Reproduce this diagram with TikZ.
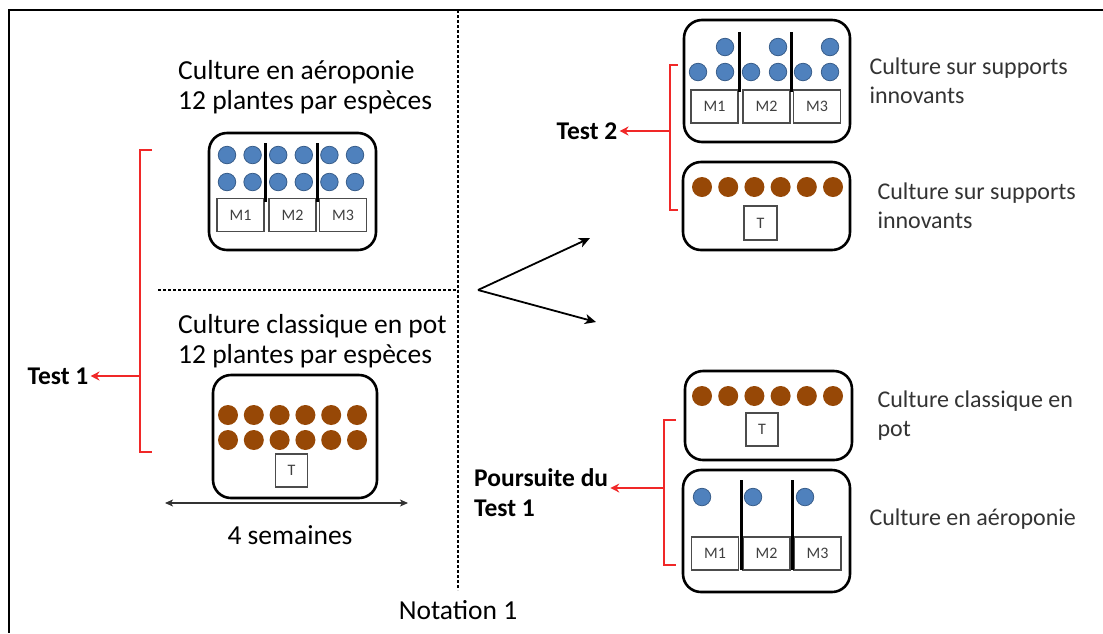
\documentclass[tikz,border=0pt]{standalone}
\usepackage{fontspec}
\setmainfont{Carlito}
\usetikzlibrary{arrows, arrows.meta, calc, positioning}
\definecolor{plantblue}{RGB}{79,129,189}
\definecolor{plantblueline}{RGB}{56,93,138}
\definecolor{plantbrown}{RGB}{151,72,6}
\definecolor{bracketred}{RGB}{240,40,40}
\tikzstyle{tray} = [rectangle, rounded corners=18pt, line width=2.6pt, draw=black, inner sep=0pt]
\tikzstyle{mbox} = [rectangle, draw=black!70, line width=1.1pt, minimum width=47pt, minimum height=33pt, inner sep=0pt, text=black!75, font=\fontsize{16}{18}\selectfont]
\tikzstyle{tbox} = [mbox, minimum width=32pt]
\tikzstyle{aero} = [circle, fill=plantblue, draw=plantblueline, line width=0.8pt, minimum size=17.5pt, inner sep=0pt]
\tikzstyle{pot} = [circle, fill=plantbrown, minimum size=20pt, inner sep=0pt]
\tikzstyle{divider} = [line width=3pt]
\tikzstyle{title} = [inner sep=0pt, align=left, font=\fontsize{27.5}{30}\selectfont]
\tikzstyle{side} = [inner sep=0pt, align=left, text=black!80, font=\fontsize{24}{29}\selectfont]
\tikzstyle{testlabel} = [inner sep=2pt, align=left, font=\bfseries\fontsize{25.5}{30}\selectfont]
\tikzstyle{bracket} = [bracketred, line width=1.5pt]
\tikzstyle{redarrow} = [bracketred, line width=1.5pt, -{Stealth[length=9pt, width=9pt]}]
\tikzstyle{arrow} = [line width=1.8pt, -{Stealth[length=11pt, width=10pt, inset=3pt]}]
\tikzstyle{divline} = [line width=1.4pt, dash pattern=on 3pt off 2pt]

\begin{document}
\begin{tikzpicture}[x=1pt, y=-1pt]
		\useasboundingbox (0,0) rectangle (1103,633);
		\draw [line width=2.5pt] (1103,10) -- (9,10) -- (9,633);
		\draw [divline] (458,10) -- (458,590);
		\draw [divline] (158,290) -- (458,290);

		% left part, aeroponie
		\node (AeroTitle) [title, anchor=west] at (178,87) {Culture en aéroponie\\12 plantes par espèces};
		\node (AeroBox) [tray, minimum width=167pt, minimum height=117pt] at (292.5,191.5) {};
		\foreach \i in {0,...,5} {
			\node (AeroTop\i) [aero] at ({227+25.6*\i},155) {};
			\node (AeroLow\i) [aero] at ({227+25.6*\i},182) {};
		}
		\node (AeroM1) [mbox] at (240.5,215) {M1};
		\node (AeroM2) [mbox] at (292.5,215) {M2};
		\node (AeroM3) [mbox] at (343,215) {M3};
		\draw [divider] (265,143) -- (265,202);
		\draw [divider] (317,143) -- (317,202);

		% left part, pot
		\node (PotTitle) [title, anchor=west] at (178,341) {Culture classique en pot\\12 plantes par espèces};
		\node (PotBox) [tray, minimum width=164pt, minimum height=123pt] at (295,436.5) {};
		\foreach \i in {0,...,5} {
			\node (PotTop\i) [pot] at ({228+25.8*\i},415) {};
			\node (PotLow\i) [pot] at ({228+25.8*\i},440) {};
		}
		\node (PotT) [tbox] at (291.5,470.5) {T};
		\coordinate (SpanLeft) at (165,503);
		\coordinate (SpanRight) at (408,503);
		\draw [{Stealth[length=8pt, width=7pt, inset=2pt]}-{Stealth[length=8pt, width=7pt, inset=2pt]}, line width=1.1pt, black!80] (SpanLeft) -- (SpanRight);
		\node (Weeks) [title] at (290,535) {4 semaines};

		% Test 1
		\draw [bracket] (152,150) -- (140,150) -- (140,452) -- (152,452);
		\coordinate (BracketOne) at (140,376);
		\node (TestOne) [testlabel] at (58,376) {Test 1};
		\draw [redarrow] (BracketOne) -- (TestOne);

		% split
		\coordinate (Fork) at (478,290);
		\coordinate (ToTestTwo) at (590,238);
		\coordinate (ToFollow) at (596,322);
		\draw [arrow] (Fork) -- (ToTestTwo);
		\draw [arrow] (Fork) -- (ToFollow);

		% right top, supports innovants
		\node (SupBox) [tray, minimum width=166pt, minimum height=122pt] at (767,81) {};
		\foreach \x in {725,778,830} {
			\node (SupTop\x) [aero] at (\x,47) {};
		}
		\foreach \x in {698,725,751,778,803,830} {
			\node (SupLow\x) [aero] at (\x,72) {};
		}
		\node (SupM1) [mbox] at (714.5,106.5) {M1};
		\node (SupM2) [mbox] at (766.5,106.5) {M2};
		\node (SupM3) [mbox] at (817,106.5) {M3};
		\draw [divider] (739,32) -- (739,92);
		\draw [divider] (791,32) -- (791,92);
		\node (SupText) [side, right = 18pt of SupBox] {Culture sur supports\\innovants};

		\node (SupPotBox) [tray, minimum width=167pt, minimum height=88pt] at (766.5,206) {};
		\foreach \i in {0,...,5} {
			\node (SupPot\i) [pot] at ({702+26.2*\i},187) {};
		}
		\node (SupPotT) [tbox, minimum width=33pt, minimum height=34pt] at (760.5,223) {T};
		\node (SupPotText) [side, right = 26pt of SupPotBox] {Culture sur supports\\innovants};

		% Test 2
		\draw [bracket] (678,65) -- (670,65) -- (670,210) -- (678,210);
		\coordinate (BracketTwo) at (670,131);
		\node (TestTwo) [testlabel] at (587,131) {Test 2};
		\draw [redarrow] (BracketTwo) -- (TestTwo);

		% right bottom, poursuite
		\node (ClassBox) [tray, minimum width=167pt, minimum height=89pt] at (768.5,415.5) {};
		\foreach \i in {0,...,5} {
			\node (ClassPot\i) [pot] at ({702+26.2*\i},396) {};
		}
		\node (ClassT) [tbox] at (762,429.5) {T};
		\node (ClassText) [side, right = 24pt of ClassBox] {Culture classique en\\pot};

		\node (AeroTwoBox) [tray, minimum width=167pt, minimum height=122pt] at (766.5,531) {};
		\foreach \x in {702,753,805} {
			\node (AeroTwo\x) [aero] at (\x,497) {};
		}
		\node (AeroTwoM1) [mbox] at (715,553.5) {M1};
		\node (AeroTwoM2) [mbox] at (766.5,553.5) {M2};
		\node (AeroTwoM3) [mbox] at (817.5,553.5) {M3};
		\draw [divider] (741,480) -- (741,570);
		\draw [divider] (792,480) -- (792,570);
		\node (AeroTwoText) [side, right = 18pt of AeroTwoBox, yshift=12pt] {Culture en aéroponie};

		\draw [bracket] (676,420) -- (664,420) -- (664,565) -- (676,565);
		\coordinate (BracketThree) at (664,488);
		\node (Follow) [testlabel, anchor=west] at (472,493) {Poursuite du\\Test 1};
		\draw [redarrow] (BracketThree) -- (Follow.east |- BracketThree);

		\node (Notation) [title] at (458,610) {Notation 1};
\end{tikzpicture}
\end{document}
